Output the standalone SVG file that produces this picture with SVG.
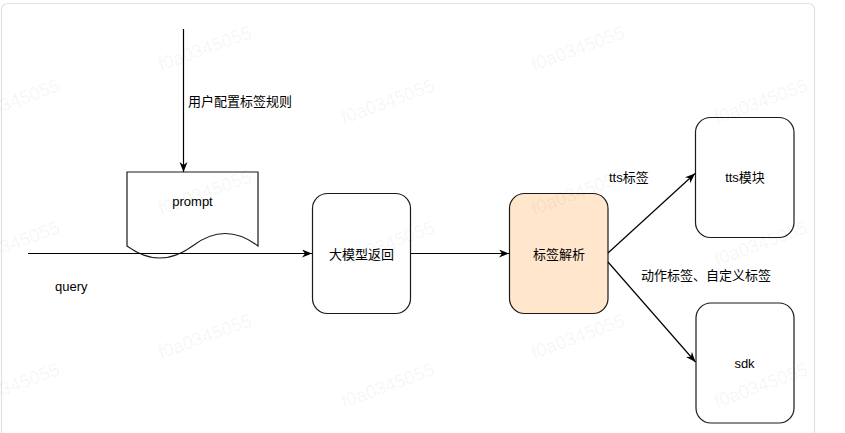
<svg xmlns="http://www.w3.org/2000/svg" width="845" height="433" viewBox="0 0 845 433">
<defs>
<style>
.frame{fill:#fff;stroke:#e2e2e2;stroke-width:1.2}
.box{fill:#fff;stroke:#1a1a1a;stroke-width:1.2}
.hot{fill:#ffe6cc}
.edge{fill:none;stroke:#000;stroke-width:1.2}
.t{font-family:"Liberation Sans","Noto Sans CJK SC",sans-serif;font-size:13px;fill:#000}
.c{text-anchor:middle}
.wm{font-family:"Liberation Sans",Arial,sans-serif;font-size:18.5px;fill:#000;fill-opacity:0.055}
</style>
<marker id="arr" markerWidth="11" markerHeight="9" refX="10" refY="4" orient="auto" markerUnits="userSpaceOnUse">
<path d="M0,0 L10,4 L0,8 L3,4 Z" fill="#000"/>
</marker>
</defs>
<rect class="frame" x="1.5" y="3.5" width="813" height="445" rx="6"/>

<g id="node-prompt">
<path class="box" d="M127,172 H258 V246 Q225.25,221 192.5,246 Q159.75,270 127,246 Z"/>
<text class="t c" x="192.5" y="206">prompt</text>
</g>
<g id="node-llm">
<rect class="box" x="312.5" y="193.5" width="98" height="120" rx="15"/>
<text class="t c" x="361.5" y="259">大模型返回</text>
</g>
<g id="node-parse">
<rect class="box hot" x="509.5" y="193.5" width="98.5" height="120" rx="15"/>
<text class="t c" x="559" y="259">标签解析</text>
</g>
<g id="node-tts">
<rect class="box" x="695.5" y="117.5" width="98.5" height="120" rx="15"/>
<text class="t c" x="745" y="182">tts模块</text>
</g>
<g id="node-sdk">
<rect class="box" x="696" y="303" width="98" height="120" rx="15"/>
<text class="t c" x="744.5" y="367.5">sdk</text>
</g>

<g id="connectors">
<line class="edge" x1="183.5" y1="29" x2="183.5" y2="172" marker-end="url(#arr)"/>
<line class="edge" x1="28" y1="253.5" x2="312" y2="253.5" marker-end="url(#arr)"/>
<line class="edge" x1="410.5" y1="253.5" x2="509" y2="253.5" marker-end="url(#arr)"/>
<line class="edge" x1="608" y1="253" x2="695" y2="173.5" marker-end="url(#arr)"/>
<line class="edge" x1="608" y1="262" x2="695.5" y2="362" marker-end="url(#arr)"/>
<text class="t" x="188" y="105.5">用户配置标签规则</text>
<text class="t" x="55" y="290.5">query</text>
<text class="t" x="609" y="182">tts标签</text>
<text class="t" x="641" y="280">动作标签、自定义标签</text>
</g>

<g id="watermark">
<text class="wm" transform="translate(161,71) rotate(-20)">f0a0345055</text>
<text class="wm" transform="translate(534,71) rotate(-20)">f0a0345055</text>
<text class="wm" transform="translate(161,215) rotate(-20)">f0a0345055</text>
<text class="wm" transform="translate(534,215) rotate(-20)">f0a0345055</text>
<text class="wm" transform="translate(161,359) rotate(-20)">f0a0345055</text>
<text class="wm" transform="translate(534,359) rotate(-20)">f0a0345055</text>
<text class="wm" transform="translate(-31,124) rotate(-20)">f0a0345055</text>
<text class="wm" transform="translate(344,124) rotate(-20)">f0a0345055</text>
<text class="wm" transform="translate(717,124) rotate(-20)">f0a0345055</text>
<text class="wm" transform="translate(-31,266) rotate(-20)">f0a0345055</text>
<text class="wm" transform="translate(344,266) rotate(-20)">f0a0345055</text>
<text class="wm" transform="translate(717,266) rotate(-20)">f0a0345055</text>
<text class="wm" transform="translate(-31,408) rotate(-20)">f0a0345055</text>
<text class="wm" transform="translate(344,408) rotate(-20)">f0a0345055</text>
<text class="wm" transform="translate(717,408) rotate(-20)">f0a0345055</text>
</g>
</svg>
